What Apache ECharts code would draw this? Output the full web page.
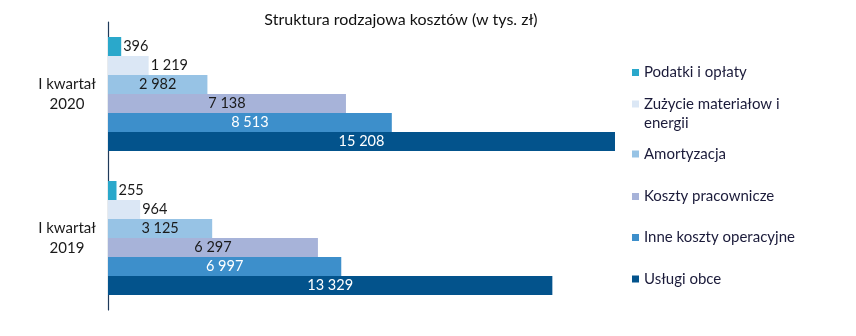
<!DOCTYPE html>
<html><head><meta charset="utf-8">
<script src="https://cdn.jsdelivr.net/npm/echarts@6/dist/echarts.min.js"></script>
<style>html,body{margin:0;padding:0;background:#fff}#c{width:856px;height:336px}</style>
</head><body><div id="c"></div>
<script>
const categories = ['I kwartał\n2020', 'I kwartał\n2019'];
const seriesNames = ['Podatki i opłaty', 'Zużycie materiałow i energii', 'Amortyzacja', 'Koszty pracownicze', 'Inne koszty operacyjne', 'Usługi obce'];
const podatki = [396, 255];
const zuzycie = [1219, 964];
const amortyzacja = [2982, 3125];
const koszty = [7138, 6297];
const inne = [8513, 6997];
const uslugi = [15208, 13329];
const values = [podatki, zuzycie, amortyzacja, koszty, inne, uslugi];

const colors = ['#2AA8CB', '#DBE7F5', '#97C3E5', '#A7B3D9', '#3D8FCB', '#03538C'];
const labelColors = ['#1a1a1a', '#1a1a1a', '#1a1a1a', '#1a1a1a', '#ffffff', '#ffffff'];
const labelPos = ['right', 'right', 'inside', 'inside', 'inside', 'inside'];
const legendTops = [63, 103.5, 144.5, 187, 228, 269.5];
const FONT = 'Lato';

function fmt(v) { return String(v).replace(/\B(?=(\d{3})+(?!\d))/g, ' '); }

const series = seriesNames.map((n, i) => ({
  name: n, type: 'bar', data: values[i], barGap: 0, barCategoryGap: '20.8%',
  itemStyle: { color: colors[i] },
  label: { show: true, position: labelPos[i], distance: 2, color: labelColors[i], fontFamily: FONT, fontSize: 14.5,
    formatter: p => fmt(p.value) }
}));

const legends = seriesNames.map((n, i) => {
  const two = i === 1;
  return {
    data: [n], orient: 'vertical', left: 632, top: two ? legendTops[i] - 9 : legendTops[i], padding: 0,
    itemWidth: 7, itemHeight: two ? 26 : 7,
    icon: two ? 'path://M0,0L7,0L7,7L0,7Z M0,26L0.01,26' : 'rect',
    formatter: two ? () => 'Zużycie materiałow i\nenergii' : undefined,
    textStyle: { fontFamily: FONT, fontSize: 15, color: '#1b1b3a', lineHeight: 19 },
    selectedMode: false
  };
});

const chart = echarts.init(document.getElementById('c'));
chart.setOption({
  animation: false,
  title: { text: 'Struktura rodzajowa kosztów (w tys. zł)', left: 396, textAlign: 'center', top: 7,
    textStyle: { fontFamily: FONT, fontSize: 16, fontWeight: 'normal', color: '#111' } },
  legend: legends,
  grid: { left: 108, right: 241, top: 22, bottom: 26, containLabel: false },
  xAxis: { type: 'value', min: 0, max: 15208, show: false },
  yAxis: { type: 'category', data: categories, inverse: true,
    axisLine: { lineStyle: { color: '#1F3A5A', width: 1.2 } }, axisTick: { show: false },
    axisLabel: { align: 'center', margin: 41, fontFamily: FONT, fontSize: 15, color: '#1a1a1a', lineHeight: 20 } },
  series: series
});
</script></body></html>
